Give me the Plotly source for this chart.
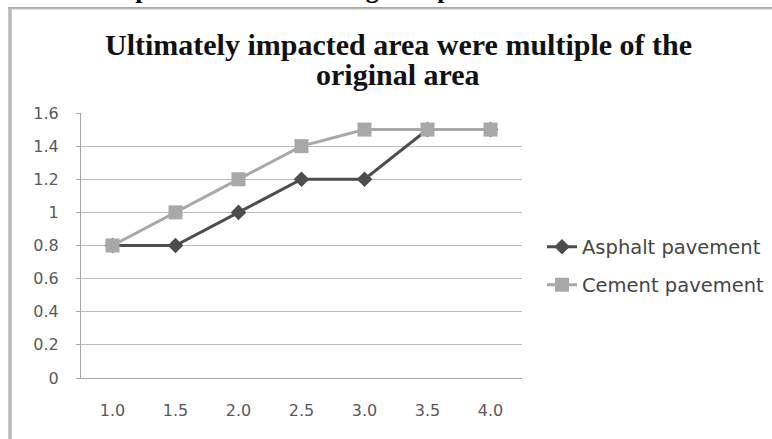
import plotly.graph_objects as go

# Impact ratio data
impact_levels = ["1.0", "1.5", "2.0", "2.5", "3.0", "3.5", "4.0"]
asphalt_area = [0.8, 0.8, 1.0, 1.2, 1.2, 1.5, 1.5]
cement_area = [0.8, 1.0, 1.2, 1.4, 1.5, 1.5, 1.5]
y_ticks = [0, 0.2, 0.4, 0.6, 0.8, 1, 1.2, 1.4, 1.6]
y_tick_text = ["0", "0.2", "0.4", "0.6", "0.8", "1", "1.2", "1.4", "1.6"]
title_lines = ["Ultimately impacted area were multiple of the", "original area"]

W, H = 772, 439

def px_x(x):
    return x / W

def px_y(y):
    return 1 - y / H

label_font = dict(family="'DejaVu Sans', sans-serif", size=16, color="#595959")
title_font = dict(family="'Liberation Serif', 'Times New Roman', serif", size=30, color="#111111")

fig = go.Figure()

fig.add_trace(go.Scatter(
    x=impact_levels, y=asphalt_area, name="Asphalt pavement",
    mode="lines+markers",
    line=dict(color="#4d4d4d", width=3),
    marker=dict(symbol="diamond", size=12, color="#4d4d4d"),
    legend="legend",
))
fig.add_trace(go.Scatter(
    x=impact_levels, y=cement_area, name="Cement pavement",
    mode="lines+markers",
    line=dict(color="#a8a8a8", width=3),
    marker=dict(symbol="square", size=14, color="#a8a8a8"),
    legend="legend2",
))

legend_common = dict(
    font=dict(family="'DejaVu Sans', sans-serif", size=19.5, color="#454545"),
    bgcolor="rgba(0,0,0,0)", itemwidth=30,
    xanchor="left", yanchor="middle",
)

annotations = [
    dict(text="<b>%s</b>" % line, xref="paper", yref="paper",
         x=px_x(398), y=px_y(yc), xanchor="center", yanchor="middle",
         showarrow=False, font=title_font)
    for line, yc in zip(title_lines, [44, 75])
]
# caption of the surrounding page, running off the top edge
annotations.append(dict(
    text="<b>Final impact area and the original specimens is related to the</b>",
    xref="paper", yref="paper",
    x=px_x(40), y=px_y(6), xanchor="left", yanchor="bottom",
    showarrow=False,
    font=dict(family="'Liberation Serif', serif", size=26, color="black"),
))

fig.update_layout(
    width=W, height=H,
    margin=dict(l=0, r=0, t=0, b=0, autoexpand=False),
    paper_bgcolor="white",
    plot_bgcolor="white",
    xaxis=dict(
        domain=[px_x(81), px_x(522)],
        type="category",
        range=[-0.5, 6.5],
        showgrid=False,
        showline=True, linecolor="#a6a6a6", linewidth=1,
        ticks="", tickfont=label_font,
        ticklabelstandoff=18,
        zeroline=False,
    ),
    yaxis=dict(
        domain=[px_y(378), px_y(113)],
        range=[0, 1.6],
        tickvals=y_ticks, ticktext=y_tick_text,
        showgrid=True, gridcolor="#bdbdbd", gridwidth=1,
        showline=True, linecolor="#a6a6a6", linewidth=1,
        ticks="outside", ticklen=4, tickcolor="#a6a6a6",
        tickfont=label_font,
        ticklabelstandoff=14,
        zeroline=False,
    ),
    legend=dict(x=px_x(542), y=px_y(247), **legend_common),
    legend2=dict(x=px_x(542), y=px_y(285), **legend_common),
    shapes=[
        # chart frame: top edge and left edge
        dict(type="line", xref="paper", yref="paper",
             x0=px_x(8), x1=1, y0=px_y(8), y1=px_y(8),
             line=dict(color="#8c8c8c", width=1.5)),
        dict(type="line", xref="paper", yref="paper",
             x0=px_x(8), x1=1, y0=px_y(9.5), y1=px_y(9.5),
             line=dict(color="#e6e6e6", width=1.5)),
        dict(type="line", xref="paper", yref="paper",
             x0=px_x(10), x1=px_x(10), y0=0, y1=px_y(8),
             line=dict(color="#b8b8b8", width=3.5)),
    ],
    annotations=annotations,
    showlegend=True,
)

fig.write_html("out.html")
